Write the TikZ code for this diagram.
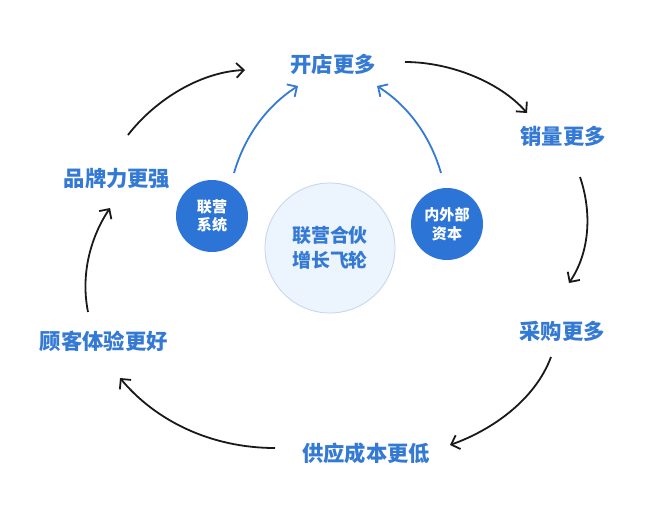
\documentclass[tikz,border=0pt]{standalone}
\usepackage{fontspec}
\setmainfont{Noto Sans CJK SC}
\usetikzlibrary{arrows.meta}
\definecolor{lblue}{RGB}{52,122,212}
\definecolor{cblue}{RGB}{44,116,214}
\definecolor{bigfill}{RGB}{236,244,253}
\definecolor{bigline}{RGB}{196,212,234}
\definecolor{arrblack}{RGB}{25,25,25}
\tikzset{
  lbl/.style={text=lblue, font=\fontsize{16}{18}\selectfont\bfseries, inner sep=0pt},
  smallc/.style={circle, fill=cblue, minimum size=54pt, inner sep=0pt, text=white, align=center, font=\fontsize{11.3}{14}\selectfont\bfseries},
  bigc/.style={circle, fill=bigfill, draw=bigline, line width=0.6pt, minimum size=97.5pt, inner sep=0pt, text=lblue, align=center, font=\fontsize{14.2}{19}\selectfont\bfseries},
  cyc/.style={draw=arrblack, line width=1.35pt, -{Straight Barb[length=5.5pt,width=11pt,line width=1.35pt]}},
  feed/.style={draw=lblue, line width=1.35pt, -{Straight Barb[length=5.5pt,width=11pt,line width=1.35pt]}}
}
\begin{document}
\begin{tikzpicture}[x=0.75pt,y=-0.75pt]
\useasboundingbox (0,0) rectangle (654,529);
\node[lbl] (kd) at (333,64) {开店更多};
\node[lbl] (xl) at (563,136) {销量更多};
\node[lbl] (cg) at (562,331) {采购更多};
\node[lbl] (gy) at (366,453) {供应成本更低};
\node[lbl] (gk) at (104,341) {顾客体验更好};
\node[lbl] (pp) at (117,178) {品牌力更强};
\node[smallc] (ly) at (212,216) {联营\\系统};
\node[smallc] (nw) at (447,224) {内外部\\资本};
\node[bigc] (fl) at (330,248) {联营合伙\\增长飞轮};
\coordinate (a1s) at (128,135); \coordinate (a1e) at (245,70);
\coordinate (a2s) at (405,62);  \coordinate (a2e) at (527,113);
\coordinate (a3s) at (580,177); \coordinate (a3e) at (569,283);
\coordinate (a4s) at (551,357); \coordinate (a4e) at (450,445);
\coordinate (a5s) at (275,448); \coordinate (a5e) at (120,378);
\coordinate (a6s) at (88,312);  \coordinate (a6e) at (110,208);
\coordinate (b1s) at (234,173); \coordinate (b1e) at (298,86);
\coordinate (b2s) at (441,173); \coordinate (b2e) at (377,86);
\draw[cyc] (a1s) .. controls (155,100) and (200,72) .. (a1e);
\draw[cyc] (a2s) .. controls (450,62) and (500,82) .. (a2e);
\draw[cyc] (a3s) .. controls (592,212) and (590,252) .. (a3e);
\draw[cyc] (a4s) .. controls (535,400) and (492,430) .. (a4e);
\draw[cyc] (a5s) .. controls (210,448) and (155,420) .. (a5e);
\draw[cyc] (a6s) .. controls (80,272) and (92,235) .. (a6e);
\draw[feed] (b1s) .. controls (245,135) and (268,105) .. (b1e);
\draw[feed] (b2s) .. controls (430,135) and (407,105) .. (b2e);
\end{tikzpicture}
\end{document}
